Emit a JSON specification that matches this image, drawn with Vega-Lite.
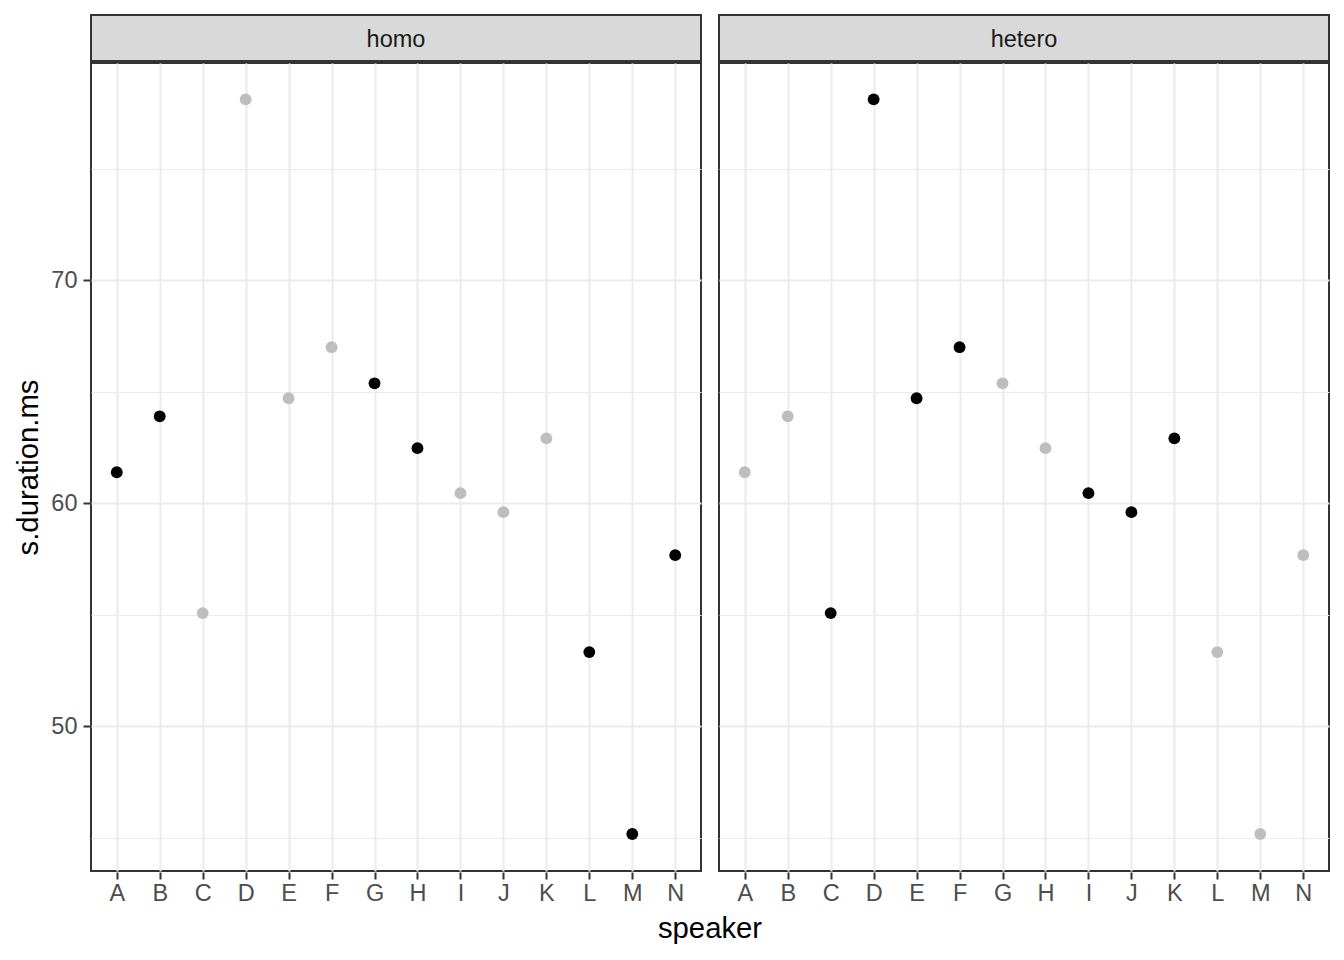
{
  "$schema": "https://vega.github.io/schema/vega-lite/v6.json",
  "padding": {"left": 14, "top": 14, "right": 16, "bottom": 5},
  "autosize": {"type": "pad"},
  "background": "white",
  "data": {
    "values": [
      {"condition": "homo", "speaker": "A", "duration": 61.39, "highlight": "black"},
      {"condition": "homo", "speaker": "B", "duration": 63.90, "highlight": "black"},
      {"condition": "homo", "speaker": "C", "duration": 55.07, "highlight": "grey"},
      {"condition": "homo", "speaker": "D", "duration": 78.12, "highlight": "grey"},
      {"condition": "homo", "speaker": "E", "duration": 64.71, "highlight": "grey"},
      {"condition": "homo", "speaker": "F", "duration": 67.00, "highlight": "grey"},
      {"condition": "homo", "speaker": "G", "duration": 65.38, "highlight": "black"},
      {"condition": "homo", "speaker": "H", "duration": 62.47, "highlight": "black"},
      {"condition": "homo", "speaker": "I", "duration": 60.45, "highlight": "grey"},
      {"condition": "homo", "speaker": "J", "duration": 59.60, "highlight": "grey"},
      {"condition": "homo", "speaker": "K", "duration": 62.91, "highlight": "grey"},
      {"condition": "homo", "speaker": "L", "duration": 53.32, "highlight": "black"},
      {"condition": "homo", "speaker": "M", "duration": 45.16, "highlight": "black"},
      {"condition": "homo", "speaker": "N", "duration": 57.67, "highlight": "black"},
      {"condition": "hetero", "speaker": "A", "duration": 61.39, "highlight": "grey"},
      {"condition": "hetero", "speaker": "B", "duration": 63.90, "highlight": "grey"},
      {"condition": "hetero", "speaker": "C", "duration": 55.07, "highlight": "black"},
      {"condition": "hetero", "speaker": "D", "duration": 78.12, "highlight": "black"},
      {"condition": "hetero", "speaker": "E", "duration": 64.71, "highlight": "black"},
      {"condition": "hetero", "speaker": "F", "duration": 67.00, "highlight": "black"},
      {"condition": "hetero", "speaker": "G", "duration": 65.38, "highlight": "grey"},
      {"condition": "hetero", "speaker": "H", "duration": 62.47, "highlight": "grey"},
      {"condition": "hetero", "speaker": "I", "duration": 60.45, "highlight": "black"},
      {"condition": "hetero", "speaker": "J", "duration": 59.60, "highlight": "black"},
      {"condition": "hetero", "speaker": "K", "duration": 62.91, "highlight": "black"},
      {"condition": "hetero", "speaker": "L", "duration": 53.32, "highlight": "grey"},
      {"condition": "hetero", "speaker": "M", "duration": 45.16, "highlight": "grey"},
      {"condition": "hetero", "speaker": "N", "duration": 57.67, "highlight": "grey"}
    ]
  },
  "spacing": 0,
  "vconcat": [
    {
      "transform": [{"filter": "datum.speaker === 'A'"}],
      "facet": {
        "column": {"field": "condition", "type": "nominal", "sort": ["homo", "hetero"], "header": {"title": null, "labels": false}}
      },
      "spacing": 16,
      "spec": {
        "width": 610,
        "height": 46,
        "view": {"fill": "#D9D9D9", "stroke": "#333333", "strokeWidth": 2},
        "mark": {"type": "text", "fontSize": 23.5, "color": "#1A1A1A", "font": "Liberation Sans", "baseline": "middle", "align": "center", "dy": 2},
        "encoding": {"text": {"field": "condition", "type": "nominal"}}
      }
    },
    {
      "facet": {
        "column": {
          "field": "condition",
          "type": "nominal",
          "sort": ["homo", "hetero"],
          "header": {
            "title": "speaker",
            "titleOrient": "bottom",
            "titleFontSize": 29.3,
            "titleFontWeight": "normal",
            "titleColor": "#000000",
            "titleFont": "Liberation Sans",
            "titlePadding": 0,
            "labels": false
          }
        }
      },
      "spacing": 16,
      "spec": {
        "width": 610,
        "height": 808,
        "view": {"fill": "white", "stroke": "#333333", "strokeWidth": 2},
        "mark": {"type": "circle", "size": 140, "opacity": 1},
        "encoding": {
          "x": {
            "field": "speaker",
            "type": "nominal",
            "title": null,
            "scale": {"type": "point", "padding": 0.6},
            "axis": {
              "grid": true,
              "gridColor": "#EBEBEB",
              "gridWidth": 2,
              "domain": false,
              "tickColor": "#333333",
              "tickWidth": 2,
              "tickSize": 7,
              "labelAngle": 0,
              "labelFontSize": 23.5,
              "labelColor": "#4D4D4D",
              "labelPadding": 2
            }
          },
          "y": {
            "field": "duration",
            "type": "quantitative",
            "title": "s.duration.ms",
            "scale": {"domain": [43.5, 79.75], "nice": false, "zero": false},
            "axis": {
              "values": [45, 50, 55, 60, 65, 70, 75],
              "labelExpr": "datum.value % 10 === 0 ? datum.label : ''",
              "grid": true,
              "gridColor": "#EBEBEB",
              "gridWidth": {"condition": {"test": "datum.value % 10 === 0", "value": 2}, "value": 1},
              "domain": false,
              "tickColor": {"condition": {"test": "datum.value % 10 === 0", "value": "#333333"}, "value": "transparent"},
              "tickWidth": 2,
              "tickSize": 7,
              "labelFontSize": 23.5,
              "labelColor": "#4D4D4D",
              "labelPadding": 6,
              "titleFontSize": 29.3,
              "titleFontWeight": "normal",
              "titleColor": "#000000",
              "titlePadding": 7
            }
          },
          "color": {
            "field": "highlight",
            "type": "nominal",
            "scale": {"domain": ["black", "grey"], "range": ["#000000", "#BEBEBE"]},
            "legend": null
          }
        }
      }
    }
  ],
  "config": {
    "font": "Liberation Sans",
    "axis": {"labelFont": "Liberation Sans", "titleFont": "Liberation Sans"}
  }
}
